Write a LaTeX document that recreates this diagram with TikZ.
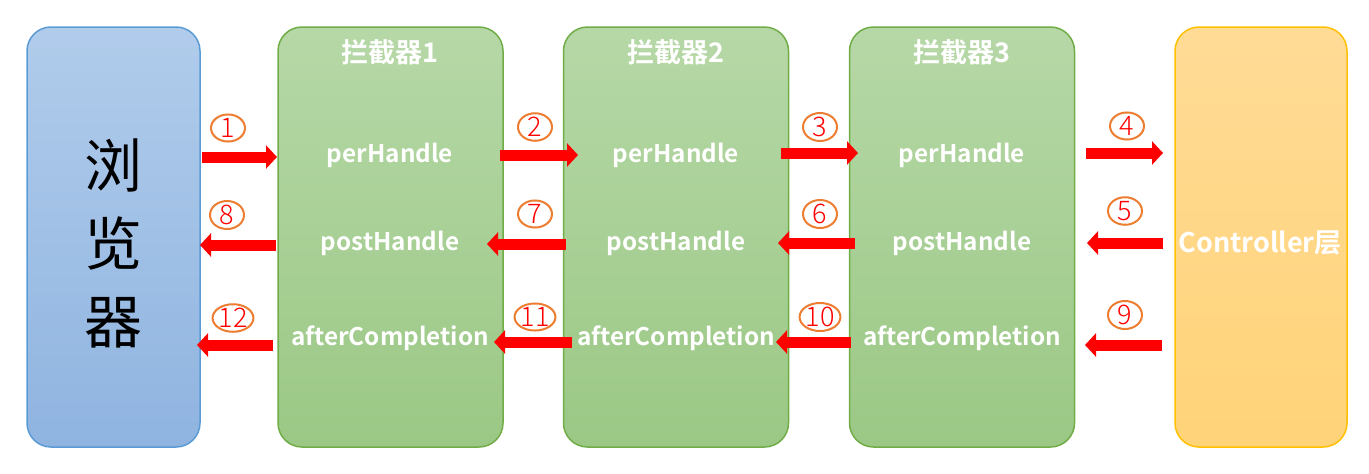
\documentclass[tikz,border=0pt]{standalone}
\usepackage{fontspec}
\setmainfont{Noto Sans CJK SC}
\newfontfamily\cjkb{Noto Sans CJK SC Bold}
\newfontfamily\cjkl{Noto Sans CJK SC Light}
\usetikzlibrary{arrows.meta,shapes.geometric}
\definecolor{bluetop}{RGB}{177,204,235}
\definecolor{bluebot}{RGB}{143,180,224}
\definecolor{blueline}{RGB}{91,155,213}
\definecolor{greentop}{RGB}{182,216,167}
\definecolor{greenbot}{RGB}{155,200,133}
\definecolor{greenline}{RGB}{112,173,71}
\definecolor{yeltop}{RGB}{255,219,150}
\definecolor{yelbot}{RGB}{255,211,120}
\definecolor{yelline}{RGB}{255,192,0}
\definecolor{circline}{RGB}{237,125,49}
\definecolor{arrred}{RGB}{255,0,0}
\tikzset{
  panel/.style={rounded corners=24pt, line width=1.5pt, inner sep=0pt, outer sep=0pt},
  browserbox/.style={panel, draw=blueline, top color=bluetop, bottom color=bluebot, minimum width=173pt, minimum height=420pt},
  interbox/.style={panel, draw=greenline, top color=greentop, bottom color=greenbot, minimum width=225pt, minimum height=420pt},
  ctrlbox/.style={panel, draw=yelline, top color=yeltop, bottom color=yelbot, minimum width=172pt, minimum height=420pt},
  wtext/.style={text=white, font=\cjkb\fontsize{24.3}{28}\selectfont, inner sep=0pt},
  ctrltext/.style={text=white, font=\cjkb\fontsize{27}{30}\selectfont, inner sep=0pt},
  ttext/.style={text=white, font=\cjkb\fontsize{27}{30}\selectfont, inner sep=0pt},
  numc/.style={draw=circline, line width=2pt, ellipse, minimum width=34pt, minimum height=27pt, inner sep=0pt, text=arrred, font=\cjkl\fontsize{27}{28}\selectfont},
  redarrow/.style={draw=arrred, line width=11pt, -{Triangle[length=11pt, width=23pt]}},
}
\begin{document}
\begin{tikzpicture}[x=1pt,y=-1pt]
\useasboundingbox (0,0) rectangle (1369,474);
% boxes
\node[browserbox] (browser) at (113.5,237) {};
\node[interbox] (i1) at (390.5,237) {};
\node[interbox] (i2) at (676,237) {};
\node[interbox] (i3) at (962,237) {};
\node[ctrlbox] (ctrl) at (1261,237) {};
% browser text
\node[font=\fontsize{58}{78}\selectfont, align=center, inner sep=0pt] (btext) at (113,243) {浏\\览\\器};
\node[ctrltext] (ctext) at (1260,243) {Controller层};
% titles
\node[ttext] (t1) at (390,52) {拦截器1};
\node[ttext] (t2) at (676,52) {拦截器2};
\node[ttext] (t3) at (962,52) {拦截器3};
% row labels
\foreach \b/\x in {1/390,2/676,3/962}{
  \node[wtext] (pre\b) at (\x,155) {perHandle};
  \node[wtext] (post\b) at (\x,243) {postHandle};
  \node[wtext] (aft\b) at (\x,338) {afterCompletion};
}
% arrow end points
\coordinate (a1s) at (202,157); \coordinate (a1e) at (277,157);
\coordinate (a2s) at (500,155); \coordinate (a2e) at (578,155);
\coordinate (a3s) at (781,153); \coordinate (a3e) at (858,153);
\coordinate (a4s) at (1086,153); \coordinate (a4e) at (1163,153);
\coordinate (a5s) at (1163,243); \coordinate (a5e) at (1087,243);
\coordinate (a6s) at (855,243); \coordinate (a6e) at (778,243);
\coordinate (a7s) at (566,244); \coordinate (a7e) at (487,244);
\coordinate (a8s) at (276,245); \coordinate (a8e) at (200,245);
\coordinate (a9s) at (1162,345); \coordinate (a9e) at (1085,345);
\coordinate (a10s) at (851,342); \coordinate (a10e) at (776,342);
\coordinate (a11s) at (572,342); \coordinate (a11e) at (494,342);
\coordinate (a12s) at (273,345); \coordinate (a12e) at (197,345);
\foreach \i in {1,...,12}{ \draw[redarrow] (a\i s) -- (a\i e); }
% numbers
\node[numc] (n1) at (228,128) {1};
\node[numc] (n2) at (535,127) {2};
\node[numc] (n3) at (820,127) {3};
\node[numc] (n4) at (1127,126) {4};
\node[numc] (n5) at (1125,211) {5};
\node[numc] (n6) at (820,214) {6};
\node[numc] (n7) at (535,214) {7};
\node[numc] (n8) at (227,215) {8};
\node[numc] (n9) at (1125,315) {9};
\node[numc] (n10) at (820,317) {10};
\node[numc] (n11) at (535,317) {11};
\node[numc] (n12) at (233,318) {12};
\end{tikzpicture}
\end{document}
